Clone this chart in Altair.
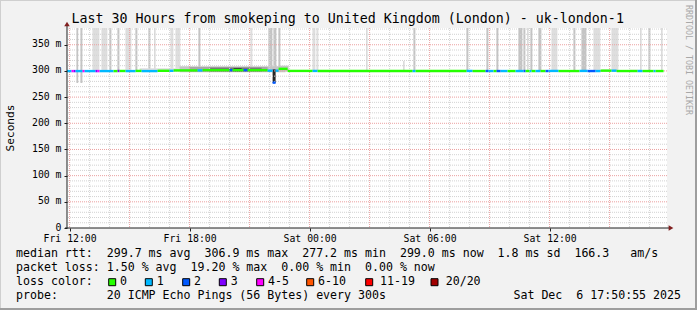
import json
import altair as alt
import pandas as pd

MONO = "DejaVu Sans Mono"
W, H = 600, 200
OX, OY = 67, 28  # plot origin on the 697x310 canvas

# ---------------- data (hours after Fri 12:00, values in ms) ----------------
X_DOMAIN = [-0.13, 29.87]
Y_DOMAIN = [0, 382]

x_tick_hours = [0, 6, 12, 18, 24]
x_tick_labels = ["Fri 12:00", "Fri 18:00", "Sat 00:00", "Sat 06:00", "Sat 12:00"]
y_tick_values = [0, 50, 100, 150, 200, 250, 300, 350]
x_grid_major = [0, 3, 6, 9, 12, 15, 18, 21, 24, 27]
x_grid_minor = [1, 2, 4, 5, 7, 8, 10, 11, 13, 14, 16, 17, 19, 20, 22, 23, 25, 26, 28, 29]
y_grid_major = [50, 100, 150, 200, 250, 300, 350]
y_grid_minor = [10, 20, 30, 40, 60, 70, 80, 90, 110, 120, 130, 140, 160, 170, 180, 190,
                210, 220, 230, 240, 260, 270, 280, 290, 310, 320, 330, 340, 360, 370, 380]

loss_labels = ["0", "1", "2", "3", "4-5", "6-10", "11-19", "20/20"]
loss_colors = ["#26ff00", "#00b8ff", "#0059ff", "#7e00ff", "#ff00ff", "#ff5500", "#ff0000", "#a10000"]

# smoke: ping spread (tall bars reach beyond the top of the axis)
smoke_start = [0.34, 0.54, 1.14, 1.59, 1.99, 2.39, 2.79, 3.29, 3.94, 4.24, 5.04, 5.29, 6.44,
               9.04, 9.94, 10.19, 10.44, 12.14, 12.34, 14.84, 16.69, 17.19, 19.84, 20.84,
               21.34, 22.44, 22.69, 22.89, 23.04, 23.44, 24.09, 25.19, 25.59, 26.19, 27.09,
               28.54, 28.94, 29.59,
               3.5, 5.5, 6.0, 7.0, 8.2, 10.45, 10.15, 26.6, 28.0]
smoke_end = [0.43, 0.64, 1.49, 1.89, 2.09, 2.49, 3.09, 3.39, 4.04, 4.29, 5.19, 5.54, 6.54,
             9.14, 10.14, 10.34, 10.54, 12.29, 12.44, 14.89, 16.74, 17.29, 19.94, 20.94,
             21.44, 22.64, 22.79, 22.94, 23.14, 23.59, 24.39, 25.29, 25.84, 26.54, 27.44,
             28.59, 29.04, 29.64,
             5.5, 10.8, 9.9, 9.6, 8.6, 10.95, 10.30, 27.4, 28.6]
smoke_low = [277, 277] + [300] * 36 + [298.5, 297.5, 298, 299, 299.5, 299, 277.2, 299, 299]
smoke_high = ([420] * 20 + [319] + [420] * 17
              + [305, 309, 307.5, 306, 305, 310, 303, 303, 302.5])
smoke_density = [2, 2, 1, 1, 2, 2, 1, 2, 2, 2, 1, 1, 2, 1, 2, 2, 2, 1, 1, 2, 2, 2, 2, 2, 2,
                 2, 2, 2, 2, 2, 1, 2, 2, 1, 1, 2, 2, 2,
                 1, 2, 3, 4, 5, 2, 5, 1, 1]
density_levels = [1, 2, 3, 4, 5]
density_colors = ["#dedede", "#c4c4c4", "#a8a8a8", "#7a7a7a", "#262626"]

# median rtt segments coloured by packet loss
med_start = [-0.13, 0.10, 0.20, 0.30, 0.65, 0.75, 1.30, 1.40, 1.50, 2.20, 2.40, 2.50, 2.80,
             3.30, 3.60, 4.40, 5.00, 5.20, 6.40, 6.65, 8.00, 8.15, 8.70, 8.90, 9.90, 10.15,
             10.30, 10.45, 10.90, 12.15, 12.40, 17.15, 17.30, 19.85, 20.15, 20.80, 20.95,
             21.20, 21.35, 21.55, 21.90, 22.30, 22.70, 22.80, 23.00, 23.10, 23.30, 23.55,
             23.80, 23.95, 24.45, 25.50, 25.90, 26.30, 26.55, 27.10, 27.35, 28.40, 28.65,
             29.20, 29.30]
med_end = [0.10, 0.20, 0.30, 0.65, 0.75, 1.30, 1.40, 1.50, 2.20, 2.40, 2.50, 2.80, 3.30,
           3.60, 4.40, 5.00, 5.20, 6.40, 6.65, 8.00, 8.15, 8.70, 8.90, 9.90, 10.15, 10.30,
           10.45, 10.90, 12.15, 12.40, 17.15, 17.30, 19.85, 20.15, 20.80, 20.95, 21.20,
           21.35, 21.55, 21.90, 22.30, 22.70, 22.80, 23.00, 23.10, 23.30, 23.55, 23.80,
           23.95, 24.45, 25.50, 25.90, 26.30, 26.55, 27.10, 27.35, 28.40, 28.65, 29.20,
           29.30, 29.70]
med_ms = [299.7, 299.7, 299.7, 299.7, 299.7, 299.7, 299.7, 299.7, 299.7, 299.7, 299.9, 299.9,
          299.7, 300.0, 299.7, 300.3, 300.3, 301.0, 301.0, 301.5, 301.5, 301.5, 301.5, 301.5,
          300.5, 277.6, 300.5, 304.0, 300.0, 300.0, 299.8, 299.8, 299.8, 300.0, 299.8, 299.8,
          299.8, 299.8, 299.8, 299.8, 299.8, 299.8, 299.8, 299.8, 299.8, 299.8, 299.8, 299.8,
          299.8, 300.0, 299.8, 300.0, 299.8, 299.8, 300.5, 300.5, 299.8, 299.8, 299.8, 299.8,
          299.8]
med_loss = ["1", "4-5", "3", "1", "4-5", "1", "3", "4-5", "1", "0", "3", "0", "1",
            "0", "1", "0", "1", "0", "1", "0", "2", "0", "2", "0", "1", "2",
            "1", "0", "0", "1", "0", "1", "0", "1", "0", "2", "1",
            "0", "2", "1", "0", "1", "2", "0", "1", "0", "1", "0",
            "2", "1", "0", "1", "2", "1", "0", "1", "0", "1", "0",
            "1", "0"]

# legend texts
line_rtt = "median rtt:  299.7 ms avg  306.9 ms max  277.2 ms min  299.0 ms now  1.8 ms sd  166.3   am/s"
line_loss = "packet loss: 1.50 % avg  19.20 % max  0.00 % min  0.00 % now"
line_probe = "probe:       20 ICMP Echo Pings (56 Bytes) every 300s"
stamp = "Sat Dec  6 17:50:55 2025"
title = "Last 30 Hours from smokeping to United Kingdom (London) - uk-london-1"

# ---------------- scales / axes ----------------
xscale = alt.Scale(domain=X_DOMAIN, nice=False, zero=False)
yscale = alt.Scale(domain=Y_DOMAIN, nice=False, zero=False)
label_expr = f"{json.dumps(x_tick_labels)}[indexof({json.dumps(x_tick_hours)}, datum.value)]"
xaxis = alt.Axis(values=x_tick_hours, labelExpr=label_expr, labelFont=MONO, labelFontSize=9.8,
                 labelColor="black", tickSize=3, tickColor="#1f1f1f", domain=False, grid=False,
                 title=None, labelPadding=2, labelAngle=0, labelFlush=False, labelOverlap=False)
yaxis = alt.Axis(values=y_tick_values, labelExpr="datum.value == 0 ? '0' : datum.value + ' m'",
                 labelFont=MONO, labelFontSize=9.8, labelColor="black", tickSize=3,
                 tickColor="#1f1f1f", domain=False, grid=False, title=None, labelPadding=3,
                 labelOffset=-1, labelFlush=False, labelOverlap=False)


def X(f):
    return alt.X(f, type="quantitative", scale=xscale, axis=xaxis)


def Y(f):
    return alt.Y(f, type="quantitative", scale=yscale, axis=yaxis)


smoke_df = pd.DataFrame({"start": smoke_start, "end": smoke_end, "low": smoke_low,
                         "high": smoke_high, "density": smoke_density})
smoke = alt.Chart(smoke_df).mark_rect(clip=True).encode(
    x=X("start"), x2="end", y=Y("low"), y2="high",
    fill=alt.Fill("density:O", scale=alt.Scale(domain=density_levels, range=density_colors),
                  legend=None))


def hrules(vals, color):
    return alt.Chart(pd.DataFrame({"v": vals})).mark_rule(
        color=color, strokeDash=[1, 1], strokeWidth=1).encode(y=Y("v"))


def vrules(vals, color):
    return alt.Chart(pd.DataFrame({"h": vals})).mark_rule(
        color=color, strokeDash=[1, 1], strokeWidth=1).encode(x=X("h"))


MINOR = "#d2d2d2"
MAJOR = "#eba0a0"
grids = [hrules(y_grid_minor, MINOR), vrules(x_grid_minor, MINOR),
         hrules(y_grid_major, MAJOR), vrules(x_grid_major, MAJOR)]

med_df = pd.DataFrame({"start": med_start, "end": med_end, "ms": med_ms, "loss": med_loss})
median = alt.Chart(med_df).mark_rule(strokeWidth=2.4).encode(
    x=X("start"), x2="end", y=Y("ms"),
    stroke=alt.Stroke("loss:N", scale=alt.Scale(domain=loss_labels, range=loss_colors),
                      legend=None))

one = pd.DataFrame({"k": [0]})


def txt(s, cx, cy, size=11.6, color="black", align="left", angle=0):
    return alt.Chart(one).mark_text(
        text=s.replace(" ", "\u00a0"), font=MONO, fontSize=size, color=color, align=align,
        baseline="middle", angle=angle).encode(x=alt.value(cx - OX), y=alt.value(cy - OY))


def box(cx1, cy1, cx2, cy2, fill, stroke=None):
    kw = dict(fill=fill)
    if stroke:
        kw.update(stroke=stroke, strokeWidth=1)
    return alt.Chart(one).mark_rect(**kw).encode(
        x=alt.value(cx1 - OX), x2=alt.value(cx2 - OX),
        y=alt.value(cy1 - OY), y2=alt.value(cy2 - OY))


AXIS = "#1f1f1f"
ARROW = "#801f1f"
axis_y = alt.Chart(one).mark_rule(color=AXIS, strokeWidth=1).encode(
    x=alt.value(0), y=alt.value(-4), y2=alt.value(H))
axis_x = alt.Chart(one).mark_rule(color=AXIS, strokeWidth=1).encode(
    x=alt.value(-2), x2=alt.value(W + 3), y=alt.value(H))
arrow_y = alt.Chart(one).mark_point(shape="triangle-up", filled=True, color=ARROW, size=30,
                                    opacity=1).encode(x=alt.value(0), y=alt.value(-4))
arrow_x = alt.Chart(one).mark_point(shape="triangle-right", filled=True, color=ARROW, size=30,
                                    opacity=1).encode(x=alt.value(W + 4), y=alt.value(H))

texts = [
    txt(title, 347.7, 19, size=13.3, align="center"),
    txt("Seconds", 11, 128, size=11.2, align="center", angle=270),
    txt("RRDTOOL / TOBI OETIKER", 688, 5, size=8.3, color="#a8a8a8", angle=90),
    txt(line_rtt, 16, 254.3),
    txt(line_loss, 16, 268.3),
    txt("loss color:", 16, 282.3),
    txt(line_probe, 16, 296.3),
    txt(stamp, 681, 296.3, align="right"),
]
box_x = [108.7, 145.3, 182.7, 219.3, 256.7, 306.7, 365.7, 431.0]
lab_x = [120.0, 156.7, 194.0, 230.7, 268.0, 318.0, 380.0, 445.7]
legend = []
for bx, lx, lab, col in zip(box_x, lab_x, loss_labels, loss_colors):
    legend.append(box(bx, 278.7, bx + 7, 285.7, col, stroke="black"))
    legend.append(txt(lab, lx, 282.3))

borders = [
    box(0, 0, 697, 1, "#cfcfcf"), box(0, 0, 1, 310, "#cfcfcf"),
    box(0, 308, 697, 310, "#9e9e9e"), box(695, 0, 697, 310, "#9e9e9e"),
]

chart = alt.layer(
    smoke, *grids, median, axis_y, axis_x, arrow_y, arrow_x, *texts, *legend, *borders
).properties(
    width=W, height=H,
    padding={"left": OX, "top": OY, "right": 697 - OX - W, "bottom": 310 - OY - H},
    autosize=alt.AutoSizeParams(type="none"),
).configure(background="#f2f2f2").configure_view(fill="white", stroke=None)

chart.save("out.html", embed_options={"renderer": "svg", "actions": False})
